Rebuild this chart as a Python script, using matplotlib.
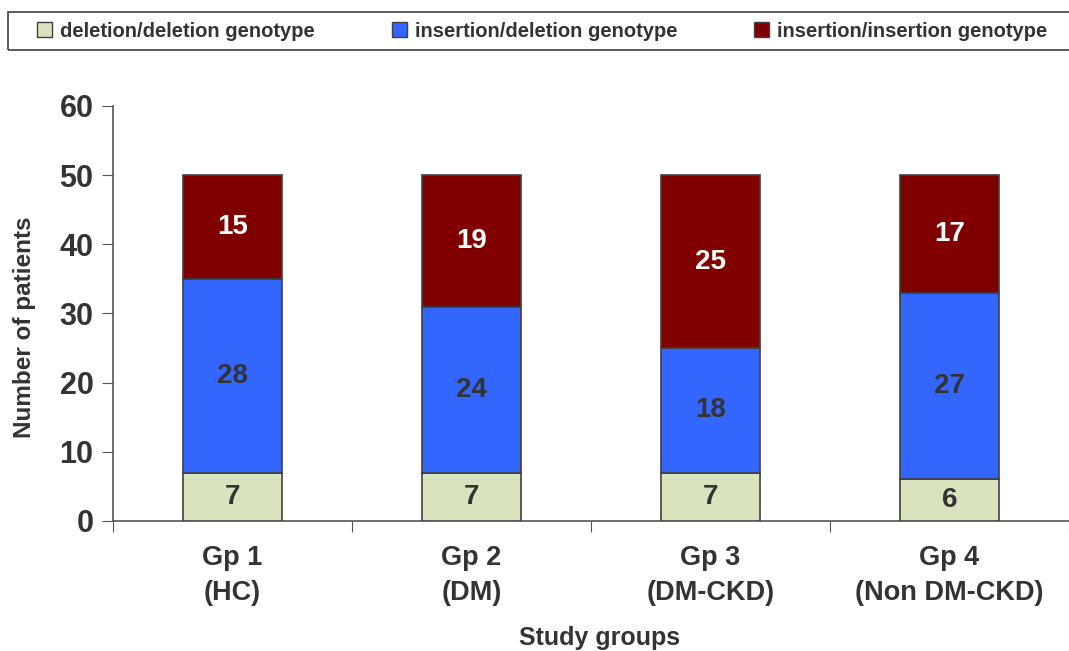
import numpy as np
import matplotlib
matplotlib.use("Agg")
import matplotlib.pyplot as plt
import matplotlib.patches as mpatches

# ─── Data ────────────────────────────────────────────────────────────────────
groups = ["Gp 1\n(HC)", "Gp 2\n(DM)", "Gp 3\n(DM-CKD)", "Gp 4\n(Non DM-CKD)"]
del_del = [7, 7, 7, 6]
ins_del = [28, 24, 18, 27]
ins_ins = [15, 19, 25, 17]
series_names = ["deletion/deletion genotype", "insertion/deletion genotype",
                "insertion/insertion genotype"]
y_ticks = [0, 10, 20, 30, 40, 50, 60]

COLORS = ["#D9E4BF", "#3366FF", "#800000"]
LABEL_COLORS = ["#333333", "#333333", "#FFFFFF"]
TEXT = "#333333"

plt.rcParams["font.family"] = ["Liberation Sans", "DejaVu Sans"]

fig = plt.figure(figsize=(10.69, 6.51), dpi=100)
ax = fig.add_axes([0.1057, 0.1997, 0.8943, 0.6375])

x = np.arange(len(groups))
bottom = np.zeros(len(groups))
for vals, col, lc in zip([del_del, ins_del, ins_ins], COLORS, LABEL_COLORS):
    vals = np.array(vals, dtype=float)
    ax.bar(x, vals, bottom=bottom, width=0.415, color=col,
           edgecolor="#404040", linewidth=1.2, zorder=3)
    for xi, b, v in zip(x, bottom, vals):
        ax.text(xi, b + v / 2, f"{int(v)}", ha="center", va="center",
                fontsize=20, fontweight="bold", color=lc, zorder=4)
    bottom += vals

ax.set_xlim(-0.5, len(groups) - 0.5)
ax.set_ylim(0, 60)
ax.set_yticks(y_ticks)
ax.set_yticklabels([str(t) for t in y_ticks], fontsize=22, fontweight="bold",
                   color=TEXT)

# category boundaries as major ticks, names on minor ticks
ax.set_xticks(np.arange(len(groups) + 1) - 0.5)
ax.set_xticklabels([])
ax.set_xticks(x, minor=True)
ax.set_xticklabels(groups, minor=True, fontsize=19.5, fontweight="bold",
                   color=TEXT, linespacing=1.45)
ax.tick_params(axis="x", which="minor", length=0, pad=17)
ax.tick_params(axis="x", which="major", length=8, color="#555555", direction="out")
ax.tick_params(axis="y", length=8, color="#555555", direction="out", pad=6)

for side in ["top", "right"]:
    ax.spines[side].set_visible(False)
for side in ["left", "bottom"]:
    ax.spines[side].set_color("#555555")
    ax.spines[side].set_linewidth(1.2)

ax.set_ylabel("Number of patients", fontsize=17.5, fontweight="bold", color=TEXT)
ax.yaxis.set_label_coords(-0.081, 0.467)
fig.text(0.561, 0.02, "Study groups", ha="center", va="center",
         fontsize=18, fontweight="bold", color=TEXT)

# legend box spans the full width at the top
fig.patches.append(mpatches.Rectangle((0.0075, 0.9232), 1.0, 0.0584,
                                      transform=fig.transFigure, fill=False,
                                      edgecolor="#404040", linewidth=1.2))
handles = [mpatches.Patch(facecolor=c, edgecolor="#404040", linewidth=1)
           for c in COLORS]
leg = fig.legend(handles, series_names, loc="center left", ncol=3,
                 bbox_to_anchor=(0.0253, 0.952), frameon=False, borderpad=0,
                 handlelength=0.75, handleheight=0.8, handletextpad=0.4,
                 columnspacing=3.8, prop={"weight": "bold", "size": 14.5})
for t in leg.get_texts():
    t.set_color(TEXT)

fig.savefig("out.png", dpi=100)
